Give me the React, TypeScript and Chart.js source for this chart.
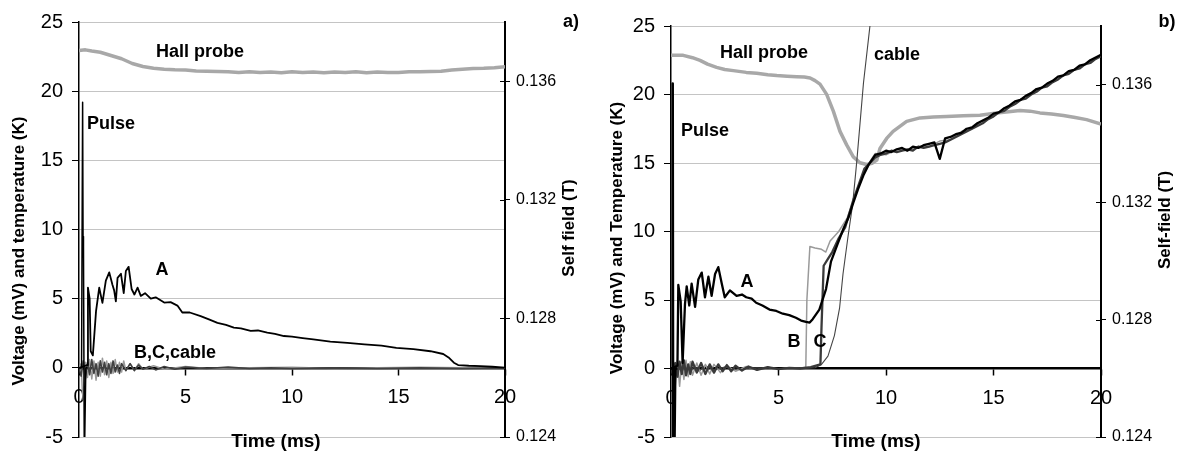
import React, { useEffect, useRef } from "react";
import { Chart, registerables } from "chart.js";
Chart.register(...registerables);

const FONT = "'Liberation Sans', Arial, sans-serif";

// ---------- tick labels ----------
const xTicks = [0, 5, 10, 15, 20];
const leftTicks = [-5, 0, 5, 10, 15, 20, 25];
const rightTicks = [0.124, 0.128, 0.132, 0.136];

// ---------- panel a ----------
const aHallT = [0, 0.3, 0.6, 1.0, 1.5, 2.0, 2.5, 3.0, 3.5, 4.0, 4.5, 5, 5.5, 6, 6.5, 7, 7.5, 8, 8.5, 9, 9.5, 10, 10.5, 11, 11.5, 12, 12.5, 13, 13.5, 14, 14.5, 15, 15.5, 16, 16.5, 17, 17.5, 18, 18.5, 19, 19.5, 20];
const aHallV = [0.13704, 0.13706, 0.13702, 0.13698, 0.13687, 0.13676, 0.1366, 0.1365, 0.13644, 0.13641, 0.13639, 0.13638, 0.13635, 0.13634, 0.13633, 0.13632, 0.1363, 0.13632, 0.1363, 0.13631, 0.13629, 0.13632, 0.1363, 0.13631, 0.13629, 0.13631, 0.1363, 0.13632, 0.13629, 0.13631, 0.1363, 0.1363, 0.13632, 0.13632, 0.13633, 0.13634, 0.13638, 0.13641, 0.13643, 0.13644, 0.13646, 0.13649];

const aPulseT = [0, 0.12, 0.17, 0.19, 0.21, 0.25, 0.28, 0.32, 0.4];
const aPulseV = [0, 0, 19.2, 9.5, 8.8, -7, -7, 0, 0];

const aAT = [0, 0.38, 0.42, 0.5, 0.55, 0.65, 0.8, 0.88, 0.95, 1.03, 1.1, 1.26, 1.42, 1.57, 1.65, 1.73, 1.81, 1.97, 2.1, 2.2, 2.33, 2.47, 2.6, 2.75, 2.9, 3.1, 3.37, 3.6, 4.0, 4.3, 4.62, 4.85, 5.2, 5.71, 6.1, 6.5, 6.9, 7.27, 7.6, 8.06, 8.4, 8.84, 9.2, 9.62, 10.0, 10.5, 11.0, 11.8, 12.6, 13.4, 14.2, 14.9, 15.7, 16.5, 17.1, 17.35, 17.6, 17.8, 18.3, 18.85, 19.4, 20];
const aAV = [0, 0.2, 5.8, 5.0, 1.2, 0.9, 4.1, 5.0, 5.8, 5.2, 4.7, 6.3, 6.9, 6.0, 5.6, 4.8, 6.5, 6.8, 5.4, 7.0, 7.3, 5.7, 5.3, 5.8, 5.2, 5.4, 5.0, 5.1, 4.72, 4.75, 4.5, 4.0, 4.0, 3.74, 3.5, 3.25, 3.1, 2.9, 2.85, 2.67, 2.7, 2.55, 2.45, 2.3, 2.25, 2.15, 2.05, 1.9, 1.8, 1.7, 1.6, 1.45, 1.35, 1.2, 1.0, 0.75, 0.37, 0.2, 0.15, 0.12, 0.08, 0.02];

const aBCT = [0, 0.1, 0.2, 0.3, 0.4, 0.5, 0.6, 0.7, 0.8, 0.9, 1.0, 1.1, 1.2, 1.3, 1.4, 1.5, 1.6, 1.7, 1.8, 1.9, 2.0, 2.2, 2.4, 2.6, 2.8, 3.0, 3.3, 3.6, 4.0, 4.5, 5, 6, 7, 8, 9, 10, 12, 14, 16, 18, 20];
const aBCV = [0, -0.6, 0.5, -0.8, 0.4, -0.5, 0.6, -0.4, 0.3, -0.6, 0.5, -0.3, 0.4, -0.5, 0.3, -0.4, 0.5, -0.3, 0.2, -0.4, 0.3, -0.2, 0.3, -0.2, 0.2, -0.1, 0.1, -0.15, 0.1, -0.1, 0.05, -0.05, 0.05, -0.05, 0, -0.05, 0, -0.05, 0, -0.05, 0];

const aCableT = [0, 0.1, 0.15, 0.2, 0.25, 0.3, 0.4, 0.5, 0.6, 0.7, 0.8, 0.9, 1.0, 1.1, 1.2, 1.3, 1.4, 1.5, 1.6, 1.7, 1.8, 1.9, 2.0, 2.1, 2.2, 2.4, 2.6, 2.8, 3.0, 3.5, 4, 5, 6, 8, 10, 12, 14, 16, 18, 20];
const aCableV = [0, 0.3, -1.5, -2.3, -1.0, 0.4, -0.7, 0.6, -0.8, 0.5, -0.9, 0.4, -0.6, 0.7, -0.5, 0.5, -0.7, 0.4, -0.4, 0.6, -0.3, 0.4, -0.3, 0.5, -0.2, 0.3, -0.2, 0.3, -0.1, 0.15, -0.1, 0.1, -0.05, 0, 0.05, -0.05, 0, 0.05, 0, 0];

// ---------- panel b ----------
const bHallT = [0, 0.57, 1.0, 1.35, 1.7, 2.12, 2.5, 2.9, 3.5, 3.99, 4.5, 4.92, 5.4, 5.85, 6.2, 6.47, 6.7, 6.93, 7.24, 7.55, 7.86, 8.17, 8.48, 8.79, 9.1, 9.35, 9.57, 9.72, 10.03, 10.33, 10.96, 11.58, 12.2, 12.82, 13.6, 14.37, 15.15, 15.7, 16.23, 16.7, 17.16, 17.7, 18.25, 18.8, 19.33, 20];
const bHallV = [0.137, 0.137, 0.13692, 0.13683, 0.1367, 0.13659, 0.13652, 0.13648, 0.13642, 0.13639, 0.13634, 0.13631, 0.13629, 0.13627, 0.13626, 0.13623, 0.13614, 0.13602, 0.13567, 0.1351, 0.13441, 0.13395, 0.13354, 0.13334, 0.13328, 0.13332, 0.13343, 0.13383, 0.13417, 0.13441, 0.13475, 0.13487, 0.1349, 0.13492, 0.13494, 0.13496, 0.13504, 0.13508, 0.13512, 0.1351, 0.13504, 0.135, 0.13495, 0.13488, 0.13481, 0.13466];

const bPulseT = [0, 0.05, 0.08, 0.1, 0.13, 0.16, 0.2, 0.3];
const bPulseV = [0, 0, 20.8, -6, -7, -6, 0, 0];

const bandT = [9.5, 9.75, 10, 10.25, 10.5, 10.75, 11, 11.25, 11.5, 11.75, 12, 12.25, 12.5, 12.75, 13, 13.25, 13.5, 13.75, 14, 14.25, 14.5, 14.75, 15, 15.25, 15.5, 15.75, 16, 16.25, 16.5, 16.75, 17, 17.25, 17.5, 17.75, 18, 18.25, 18.5, 18.75, 19, 19.25, 19.5, 19.75, 20];
const bandHalfT = [9.5, 10, 10.5, 11, 11.5, 12, 12.5, 13, 13.5, 14, 14.5, 15, 15.5, 16, 16.5, 17, 17.5, 18, 18.5, 19, 19.5, 20];

const bAEarlyT = [0, 0.3, 0.34, 0.45, 0.54, 0.65, 0.73, 0.85, 0.96, 1.12, 1.27, 1.43, 1.58, 1.74, 1.89, 2.05, 2.2, 2.36, 2.5, 2.74, 3.05, 3.3, 3.5, 3.75, 3.96, 4.25, 4.58, 4.9, 5.2, 5.5, 5.81, 6.05, 6.28, 6.45, 6.59, 6.9, 7.21, 7.44, 7.75, 8.02, 8.25, 8.48, 8.7, 8.95, 9.2];
const bAEarlyV = [0, 0.2, 6.1, 4.9, 0.4, 4.7, 6.0, 4.6, 6.2, 4.5, 6.5, 7.0, 5.2, 6.7, 5.3, 6.9, 7.4, 6.2, 5.2, 5.7, 5.3, 5.4, 5.2, 5.1, 4.8, 4.6, 4.3, 4.2, 4.0, 3.9, 3.7, 3.5, 3.4, 3.35, 3.6, 4.3, 5.8, 7.8, 9.1, 10.2, 11.0, 12.1, 13.1, 14.1, 14.9];
const bABandV = [15.6, 15.7, 15.9, 15.8, 16.0, 16.1, 15.9, 16.2, 16.1, 16.3, 16.4, 16.5, 15.3, 16.8, 16.9, 17.1, 17.2, 17.5, 17.6, 17.9, 18.1, 18.3, 18.6, 18.7, 19.0, 19.2, 19.5, 19.6, 19.9, 20.1, 20.4, 20.5, 20.8, 21.0, 21.3, 21.4, 21.7, 21.8, 22.1, 22.2, 22.5, 22.7, 22.9];

const bCEarlyT = [0, 0.1, 0.2, 0.3, 0.4, 0.5, 0.6, 0.7, 0.8, 0.9, 1.0, 1.2, 1.4, 1.6, 1.8, 2.0, 2.2, 2.4, 2.6, 2.8, 3.0, 3.3, 3.6, 4.0, 4.5, 5.0, 5.5, 6.0, 6.5, 6.95, 7.0, 7.1, 7.3, 7.5, 7.8, 8.1, 8.5, 9.0];
const bCEarlyV = [0, -0.5, 0.4, -0.6, 0.5, -0.4, 0.6, -0.5, 0.3, -0.4, 0.5, -0.3, 0.4, -0.4, 0.3, -0.3, 0.3, -0.2, 0.25, -0.2, 0.2, -0.15, 0.15, -0.1, 0.1, -0.05, 0.05, 0, 0.1, 0.3, 3, 7.5, 8.0, 8.5, 9.5, 10.3, 12.4, 14.6];
const bCBandV = [15.4, 15.6, 15.7, 15.9, 15.8, 15.9, 16.0, 15.9, 16.2, 16.1, 16.2, 16.3, 16.4, 16.5, 16.7, 16.9, 17.1, 17.3, 17.5, 17.7, 17.9, 18.2, 18.4, 18.7, 18.8, 19.1, 19.3, 19.6, 19.7, 20.0, 20.2, 20.5, 20.6, 20.9, 21.1, 21.4, 21.5, 21.8, 21.9, 22.2, 22.3, 22.6, 22.8];

const bBEarlyT = [0, 0.1, 0.15, 0.2, 0.3, 0.4, 0.5, 0.6, 0.7, 0.8, 0.9, 1.0, 1.2, 1.4, 1.6, 1.8, 2.0, 2.3, 2.6, 3.0, 3.5, 4.0, 4.5, 5.0, 5.5, 6.0, 6.27, 6.32, 6.46, 6.7, 7.0, 7.2, 7.4, 7.8, 8.2, 8.6, 9.0];
const bBEarlyV = [0, 0.5, -1.8, -1.2, 0.6, -1.3, 0.5, -0.8, 0.6, -0.6, 0.5, -0.5, 0.4, -0.5, 0.3, -0.4, 0.3, -0.3, 0.2, -0.2, 0.15, -0.1, 0.1, -0.05, 0.05, 0, 0.1, 5, 8.9, 8.8, 8.7, 8.5, 9.3, 10, 11, 12.8, 14.5];
const bBBandV = [15.7, 15.6, 16.0, 15.9, 16.2, 16.2, 16.6, 16.7, 17.3, 17.5, 18.1, 18.4, 19.0, 19.3, 19.9, 20.2, 20.8, 21.1, 21.7, 21.9, 22.5, 22.8];

const bCableT = [0, 0.1, 0.2, 0.3, 0.5, 0.7, 0.9, 1.1, 1.3, 1.6, 2.0, 2.5, 3.0, 4.0, 5.0, 6.0, 6.7, 7.0, 7.3, 7.6, 7.84, 8.0, 8.23, 8.45, 8.64, 8.95, 9.26, 9.4];
const bCableV = [0, 0.3, -0.4, 0.4, -0.3, 0.3, -0.3, 0.2, -0.2, 0.2, -0.1, 0.1, -0.05, 0.05, 0, 0, 0.05, 0.3, 0.9, 2.4, 4.4, 6.9, 9.6, 12.0, 15.1, 20.8, 25.1, 28];

function zip(t: number[], v: number[]) {
  return t.map((x, i) => ({ x, y: v[i] }));
}

function ds(t: number[], v: number[], color: string, width: number, axis = "y") {
  return {
    data: zip(t, v),
    borderColor: color,
    backgroundColor: color,
    borderWidth: width,
    pointRadius: 0,
    tension: 0,
    fill: false,
    borderJoinStyle: "round" as const,
    yAxisID: axis,
  };
}

type Txt = { text: string; x: number; y: number; size: number; bold?: boolean; align?: CanvasTextAlign; rotate?: boolean };

function textPlugin(items: Txt[]) {
  return {
    id: "texts",
    afterDraw(chart: any) {
      const ctx: CanvasRenderingContext2D = chart.ctx;
      ctx.save();
      const y1 = chart.scales.y1;
      const xr = chart.chartArea.right;
      ctx.strokeStyle = "#000";
      ctx.lineWidth = 1;
      rightTicks.forEach((v) => {
        const py = Math.round(y1.getPixelForValue(v)) + 0.5;
        ctx.beginPath();
        ctx.moveTo(xr - 5, py);
        ctx.lineTo(xr, py);
        ctx.stroke();
      });
      ctx.fillStyle = "#000";
      for (const it of items) {
        ctx.save();
        ctx.font = `${it.bold === false ? "" : "bold "}${it.size}px ${FONT}`;
        ctx.textBaseline = "middle";
        ctx.textAlign = it.align || "center";
        ctx.translate(it.x, it.y);
        if (it.rotate) ctx.rotate(-Math.PI / 2);
        ctx.fillText(it.text, 0, 0);
        ctx.restore();
      }
      ctx.restore();
    },
  };
}

function makeOptions(topPad: number, rightW: number): any {
  return {
    responsive: false,
    maintainAspectRatio: false,
    animation: false,
    devicePixelRatio: 1,
    events: [],
    layout: { padding: { top: topPad, left: 0, right: 0, bottom: 0 } },
    plugins: { legend: { display: false }, tooltip: { enabled: false }, title: { display: false } },
    scales: {
      x: {
        type: "linear",
        min: 0,
        max: 20,
        position: { y: 0 },
        afterBuildTicks: (s: any) => {
          s.ticks = xTicks.map((v) => ({ value: v }));
        },
        afterFit: (s: any) => {
          s.height = 27;
        },
        grid: { drawOnChartArea: false, drawTicks: true, tickLength: 6, tickColor: "#000", tickWidth: 1.5 },
        border: { color: "#000", width: 2.5 },
        ticks: { font: { family: FONT, size: 20 }, color: "#000", padding: 12, maxRotation: 0, autoSkip: false },
      },
      y: {
        type: "linear",
        min: -5,
        max: 25,
        position: "left",
        afterBuildTicks: (s: any) => {
          s.ticks = leftTicks.map((v) => ({ value: v }));
        },
        afterFit: (s: any) => {
          s.width = 79;
        },
        grid: { color: "#c4c4c4", lineWidth: 1, drawTicks: true, tickLength: 7, tickColor: "#000" },
        border: { color: "#000", width: 1.5 },
        ticks: { font: { family: FONT, size: 20 }, color: "#000", padding: 9 },
      },
      y1: {
        type: "linear",
        min: 0.124,
        max: 0.138,
        position: "right",
        afterBuildTicks: (s: any) => {
          s.ticks = rightTicks.map((v) => ({ value: v }));
        },
        afterFit: (s: any) => {
          s.width = rightW;
        },
        grid: { drawOnChartArea: false, drawTicks: true, tickLength: 5, tickColor: "#000" },
        border: { color: "#000", width: 2 },
        ticks: {
          font: { family: FONT, size: 16 },
          color: "#000",
          padding: 6,
          callback: (v: any) => Number(v).toFixed(3),
        },
      },
    },
  };
}

function Panel(props: { left: number; datasets: any[]; topPad: number; rightW: number; texts: Txt[] }) {
  const ref = useRef<HTMLCanvasElement>(null);
  useEffect(() => {
    const chart = new Chart(ref.current as HTMLCanvasElement, {
      type: "line",
      data: { datasets: props.datasets },
      options: makeOptions(props.topPad, props.rightW),
      plugins: [textPlugin(props.texts) as any],
    });
    return () => chart.destroy();
  }, []);
  return (
    <canvas
      ref={ref}
      width={592}
      height={458}
      style={{ position: "absolute", left: props.left, top: 0, width: 592, height: 458, display: "block" }}
    />
  );
}

const HALL = "#a8a8a8";

const aDatasets = [
  ds(aPulseT, aPulseV, "#000", 1.5),
  ds(aAT, aAV, "#000", 1.8),
  ds(aBCT, aBCV, "#404040", 1.6),
  ds(aCableT, aCableV, "#9a9a9a", 1.5),
  ds(aHallT, aHallV, HALL, 3.5, "y1"),
];

const bDatasets = [
  ds(bPulseT, bPulseV, "#000", 2.5),
  ds([...bAEarlyT, ...bandT], [...bAEarlyV, ...bABandV], "#000", 2.3),
  ds([...bCEarlyT, ...bandT], [...bCEarlyV, ...bCBandV], "#3a3a3a", 2.3),
  ds([...bBEarlyT, ...bandHalfT], [...bBEarlyV, ...bBBandV], "#9a9a9a", 1.5),
  ds(bCableT, bCableV, "#444", 1.1),
  ds(bHallT, bHallV, HALL, 3.5, "y1"),
];

const aTexts: Txt[] = [
  { text: "Hall probe", x: 200, y: 52, size: 18 },
  { text: "Pulse", x: 87, y: 124, size: 18, align: "left" },
  { text: "A", x: 162, y: 270, size: 18 },
  { text: "B,C,cable", x: 175, y: 353, size: 18 },
  { text: "a)", x: 571, y: 22, size: 18 },
  { text: "Time (ms)", x: 276, y: 442, size: 19 },
  { text: "Voltage (mV) and temperature (K)", x: 19, y: 251, size: 17, rotate: true },
  { text: "Self field (T)", x: 569, y: 228, size: 17, rotate: true },
];

const bTexts: Txt[] = [
  { text: "Hall probe", x: 172, y: 53, size: 18 },
  { text: "cable", x: 305, y: 55, size: 18 },
  { text: "Pulse", x: 89, y: 131, size: 18, align: "left" },
  { text: "A", x: 155, y: 282, size: 18 },
  { text: "B", x: 202, y: 342, size: 18 },
  { text: "C", x: 228, y: 342, size: 18 },
  { text: "b)", x: 575, y: 22, size: 18 },
  { text: "Time (ms)", x: 284, y: 442, size: 19 },
  { text: "Voltage (mV) and Temperature (K)", x: 25, y: 238, size: 17, rotate: true },
  { text: "Self-field (T)", x: 573, y: 220, size: 17, rotate: true },
];

export default function App() {
  return (
    <div style={{ position: "absolute", left: 0, top: 0, width: 1184, height: 458, background: "#fff", overflow: "hidden" }}>
      <Panel left={0} datasets={aDatasets} topPad={22} rightW={87} texts={aTexts} />
      <Panel left={592} datasets={bDatasets} topPad={26} rightW={83} texts={bTexts} />
    </div>
  );
}
